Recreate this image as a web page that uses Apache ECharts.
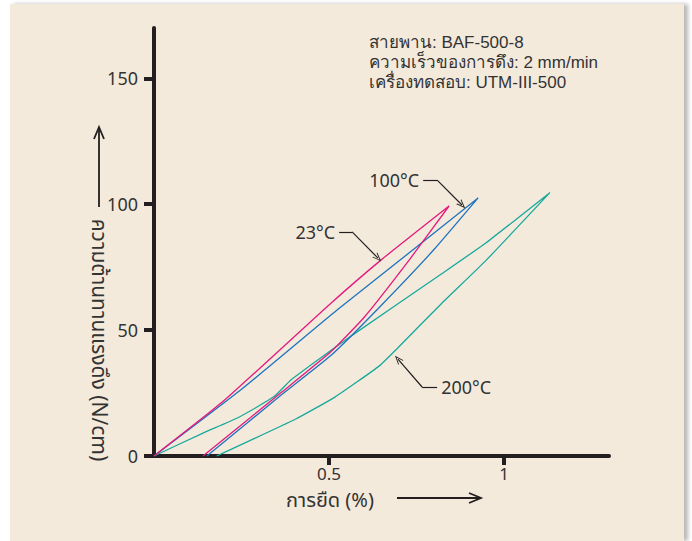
<!DOCTYPE html>
<html>
<head>
<meta charset="utf-8">
<script src="https://cdn.jsdelivr.net/npm/echarts@6/dist/echarts.min.js"></script>
<style>
  html, body { margin: 0; padding: 0; background: #fff; }
  #panel { position: absolute; left: 10px; top: 4px; width: 674px; height: 537px;
           background: #f4eadc; box-shadow: 4px 0 4px #b9b9b9; }
  #chart { position: absolute; left: 0; top: 0; width: 692px; height: 541px; }
</style>
</head>
<body>
<div id="panel"></div>
<div id="chart"></div>
<script>
// เส้นโค้งแรงดึง-การยืด (ขาขึ้น แล้วขาลง) ที่ 3 อุณหภูมิ
var strain23 = [0, 0.2, 0.5, 0.65, 0.843, 0.73, 0.6, 0.506, 0.366, 0.14];
var force23  = [0, 22, 60, 78, 99.3, 78, 55, 41.5, 25.5, 0];

var strain100 = [0, 0.25, 0.523, 0.75, 0.926, 0.8, 0.64, 0.506, 0.366, 0.151];
var force100  = [0, 26.5, 58, 83, 102.5, 82, 58.5, 40, 24.5, 0];

var strain200 = [0, 0.14, 0.241, 0.342, 0.392, 0.506, 0.569, 0.821, 0.948, 1.131,
                 0.948, 0.821, 0.695, 0.644, 0.518, 0.405, 0.179];
var force200  = [0, 9.1, 15.3, 23.5, 30.3, 42, 48.2, 72.3, 84.6, 104.6,
                 77.6, 60.5, 42.7, 35.8, 23.5, 14.7, 0];

var xTicks = [0.5, 1];
var yTicks = [0, 50, 100, 150];

// ป้ายชี้เส้น: [ข้อความ, จุดเริ่มเส้นนอน, จุดหักมุม, ปลายลูกศร]
var callouts = [
  ['100°C', [0.769, 109.6], [0.809, 109.6], [0.88, 99.7]],
  ['23°C',  [0.529, 89],    [0.566, 89],    [0.64, 78.6]],
  ['200°C', [0.809, 27.4],  [0.766, 27.4],  [0.697, 38.5]]
];

var infoLines = ['สายพาน: BAF-500-8', 'ความเร็วของการดึง: 2 mm/min', 'เครื่องทดสอบ: UTM-III-500'];

var ink = '#231f20';
var txt = '#333333';
var font = '"Noto Sans", "Noto Sans Thai", "DejaVu Sans", sans-serif';
var infoFont = '"Liberation Sans", sans-serif';

function zip(xs, ys) { return xs.map(function (x, i) { return [x, ys[i]]; }); }

var chevron = 'path://M5,0 L10,10 L8.6,10 L5,2.6 L1.4,10 L0,10 Z';

var leaderData = [];
callouts.forEach(function (c) {
  leaderData.push([
    { coord: c[1], symbol: 'none', label: { show: true, formatter: c[0], position: 'start' } },
    { coord: c[2], symbol: 'none' }
  ]);
  leaderData.push([
    { coord: c[2], symbol: 'none', label: { show: false } },
    { coord: c[3], symbol: chevron, symbolSize: [7, 9] }
  ]);
});

function curve(name, xs, ys, color) {
  return {
    name: name, type: 'line', data: zip(xs, ys), showSymbol: false, smooth: 0.15,
    lineStyle: { color: color, width: 1.3 }, silent: true, z: 3
  };
}

// ข้อความกำกับมุมขวาบน แยกเป็นบรรทัด
var infoGraphics = infoLines.map(function (s, i) {
  return {
    type: 'text', x: 369, y: 42 + i * 20,
    style: { text: s, font: '17px ' + infoFont, fill: txt, verticalAlign: 'middle' }
  };
});

var chart = echarts.init(document.getElementById('chart'), null, { renderer: 'svg' });
chart.setOption({
  animation: false,
  backgroundColor: 'transparent',
  textStyle: { fontFamily: font },
  grid: { left: 154, right: 83, top: 28, bottom: 85 },
  xAxis: {
    type: 'value', min: 0, max: 1.3,
    axisLine: { lineStyle: { color: ink, width: 4 } },
    axisTick: { show: true, customValues: xTicks, length: 9, lineStyle: { color: ink, width: 4 } },
    axisLabel: { customValues: xTicks, color: txt, fontSize: 17, margin: 9 },
    splitLine: { show: false }
  },
  yAxis: {
    type: 'value', min: 0, max: 170,
    axisLine: { show: true, lineStyle: { color: ink, width: 4 } },
    axisTick: { show: true, customValues: yTicks, length: 10, lineStyle: { color: ink, width: 4 } },
    axisLabel: { customValues: yTicks, color: txt, fontSize: 18, margin: 16 },
    splitLine: { show: false }
  },
  series: [
    curve('200°C', strain200, force200, '#17a99b'),
    curve('100°C', strain100, force100, '#1e73be'),
    curve('23°C', strain23, force23, '#e4197d'),
    {
      type: 'line', data: [], silent: true,
      markLine: {
        silent: true, animation: false, symbol: 'none',
        lineStyle: { color: ink, width: 1.2, type: 'solid' },
        label: { color: txt, fontSize: 18, fontFamily: font, distance: 4 },
        emphasis: { disabled: true },
        data: leaderData
      }
    }
  ],
  graphic: infoGraphics.concat([
    {
      type: 'text', x: 100, y: 340, rotation: -Math.PI / 2,
      style: { text: 'ความต้านทานแรงดึง (N/cm)', font: '21px ' + font, fill: txt,
               align: 'center', verticalAlign: 'middle' }
    },
    { type: 'line', shape: { x1: 99, y1: 207, x2: 99, y2: 128 }, style: { stroke: ink, lineWidth: 1.8 } },
    { type: 'polyline', shape: { points: [[94, 139], [99, 127], [104, 139]] },
      style: { stroke: ink, lineWidth: 1.8, fill: null } },
    {
      type: 'text', x: 330, y: 499,
      style: { text: 'การยืด (%)', font: '20px ' + font, fill: txt, align: 'center', verticalAlign: 'middle' }
    },
    { type: 'line', shape: { x1: 397, y1: 498, x2: 480, y2: 498 }, style: { stroke: ink, lineWidth: 1.8 } },
    { type: 'polyline', shape: { points: [[469, 493], [481, 498], [469, 503]] },
      style: { stroke: ink, lineWidth: 1.8, fill: null } }
  ])
});
</script>
</body>
</html>
